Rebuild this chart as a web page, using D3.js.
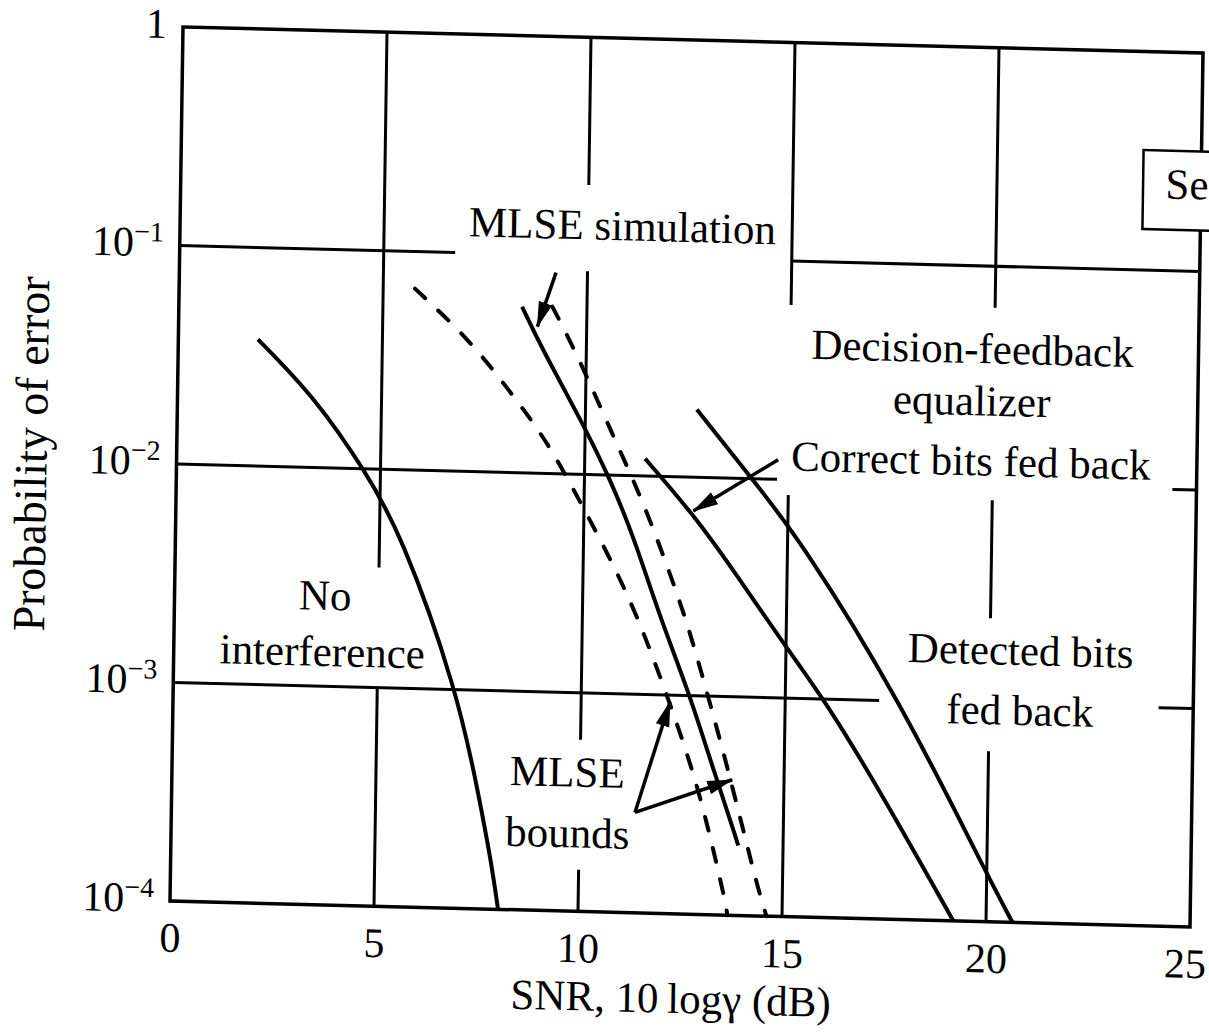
<!DOCTYPE html>
<html>
<head>
<meta charset="utf-8">
<script src="https://cdn.jsdelivr.net/npm/d3@7"></script>
<style>
  body { margin: 0; background: #fff; }
  text { font-family: "Liberation Serif", "Times New Roman", serif; fill: #000; }
</style>
</head>
<body>
<svg id="chart" width="1209" height="1036"></svg>
<script>
// SNR (dB) vs probability of error
const noInterference = [[1.95,0.038],[3.42,0.0204],[4.62,0.00977],[5.50,0.00525],[6.96,0.001],[7.56,0.000309],[7.88,0.000155],[8.04,0.0001]];
const mlseBoundLow = [[5.78,0.0676],[7.15,0.0398],[8.15,0.0234],[9.07,0.0141],[9.90,0.0075],[10.66,0.00417],[11.34,0.00229],[11.98,0.00115],[12.77,0.000457],[13.21,0.000229],[13.60,0.000117],[13.66,0.0001]];
const mlseSimulation = [[8.41,0.0575],[8.94,0.0363],[9.95,0.0170],[10.63,0.00955],[11.21,0.00537],[11.91,0.00224],[12.67,0.001],[13.26,0.000464],[13.82,0.000234],[13.90,0.000209]];
const mlseBoundHigh = [[9.15,0.0581],[9.77,0.0355],[10.69,0.0151],[11.45,0.00759],[12.05,0.00394],[12.57,0.00216],[13.03,0.00112],[13.63,0.000464],[14.33,0.000148],[14.58,0.000105],[14.62,0.0001]];
const dfeCorrectBits = [[11.48,0.0120],[12.68,0.00676],[13.68,0.0038],[14.93,0.00178],[16.03,0.000955],[17.44,0.000363],[19.20,0.0001]];
const dfeDetectedBits = [[12.73,0.0204],[14.06,0.0102],[15.30,0.00537],[17.82,0.001],[19.91,0.000178],[20.65,0.0001]];

const xTicks = [0, 5, 10, 15, 20, 25];
const yTicks = [1, 0.1, 0.01, 0.001, 0.0001];
const yTickExp = ["", "\u22121", "\u22122", "\u22123", "\u22124"];

// grid is broken around the labels: [x, p from, p to] and [p, x from, x to]
const vGrid = [[5,1,0.00355],[5,0.001,0.0001],[10,1,0.211],[10,0.0851,0.00061],[10,0.000155,0.0001],
  [15,1,0.063],[15,0.0085,0.0001],[20,1,0.0646],[20,0.0085,0.00245],[20,0.000603,0.0001]];
const hGrid = [[0.1,0,6.75],[0.1,15,25],[0.01,0,14.72],[0.01,24.41,25],[0.001,0,17.3],[0.001,24.15,25]];

const notes = [
  ["MLSE simulation", 10.84, 0.119],
  ["Decision-feedback", 19.46, 0.0359],
  ["equalizer", 19.46, 0.0207],
  ["Correct bits fed back", 19.46, 0.011],
  ["Detected bits", 20.75, 0.00151],
  ["fed back", 20.75, 0.000802],
  ["No", 3.69, 0.00224],
  ["interference", 3.64, 0.00124],
  ["MLSE", 9.69, 0.000372],
  ["bounds", 9.71, 0.000196]
];
const arrows = [
  [[9.23,0.0832],[8.79,0.0468]],
  [[14.74,0.0123],[12.68,0.007]],
  [[11.36,0.000288],[12.18,0.000933]],
  [[11.36,0.000288],[13.73,0.000417]]
];

const width = 1020, height = 874;
const svg = d3.select('#chart');

svg.append('defs').append('marker')
  .attr('id', 'head')
  .attr('markerUnits', 'userSpaceOnUse')
  .attr('viewBox', '0 -8 26 16')
  .attr('refX', 25).attr('refY', 0)
  .attr('markerWidth', 26).attr('markerHeight', 16)
  .attr('orient', 'auto')
  .append('path').attr('d', 'M0,-7L26,0L0,7Z').attr('fill', '#000');

// the scan is slightly tilted, so the whole plot sits in a skewed frame
const g = svg.append('g')
  .attr('transform', 'matrix(1,0.0255,-0.01487,1,170,901)');

const x = d3.scaleLinear().domain([0, 25]).range([0, width]);
const y = d3.scaleLog().domain([1e-4, 1]).range([0, -height]);

// grid
g.selectAll('.vgrid').data(vGrid).enter().append('line')
  .attr('x1', d => x(d[0])).attr('x2', d => x(d[0]))
  .attr('y1', d => y(d[1])).attr('y2', d => y(d[2]))
  .style('stroke', '#000').style('stroke-width', 3);
g.selectAll('.hgrid').data(hGrid).enter().append('line')
  .attr('x1', d => x(d[1])).attr('x2', d => x(d[2]))
  .attr('y1', d => y(d[0])).attr('y2', d => y(d[0]))
  .style('stroke', '#000').style('stroke-width', 3);

// frame
g.append('rect')
  .attr('x', x(0)).attr('y', y(1))
  .attr('width', x(25) - x(0)).attr('height', y(1e-4) - y(1))
  .style('fill', 'none').style('stroke', '#000').style('stroke-width', 3.5);

// curves
const line = d3.line()
  .x(d => x(d[0]))
  .y(d => y(d[1]))
  .curve(d3.curveBasis);

const curves = [
  [noInterference, false],
  [mlseBoundLow, true],
  [mlseSimulation, false],
  [mlseBoundHigh, true],
  [dfeCorrectBits, false],
  [dfeDetectedBits, false]
];
g.selectAll('.curve').data(curves).enter().append('path')
  .attr('d', d => line(d[0]))
  .style('fill', 'none')
  .style('stroke', '#000')
  .style('stroke-width', 4)
  .style('stroke-linecap', d => d[1] ? 'round' : 'butt')
  .style('stroke-dasharray', d => d[1] ? '14,18' : null);

// arrows
g.selectAll('.arrow').data(arrows).enter().append('line')
  .attr('x1', d => x(d[0][0])).attr('y1', d => y(d[0][1]))
  .attr('x2', d => x(d[1][0])).attr('y2', d => y(d[1][1]))
  .style('stroke', '#000').style('stroke-width', 3.5)
  .attr('marker-end', 'url(#head)');

// labels
g.selectAll('.note').data(notes).enter().append('text')
  .attr('x', d => x(d[1])).attr('y', d => y(d[2]))
  .attr('text-anchor', 'middle')
  .style('font-size', '43px')
  .text(d => d[0]);

// cut-off box at the right edge
g.append('rect')
  .attr('x', x(23.58)).attr('y', y(0.354))
  .attr('width', x(27) - x(23.58)).attr('height', y(0.154) - y(0.354))
  .style('fill', '#fff').style('stroke', '#000').style('stroke-width', 2.5);
g.append('text')
  .attr('x', x(24.13)).attr('y', y(0.214))
  .style('font-size', '43px')
  .text('Se');

// axes
const xAxis = g.append('g')
  .call(d3.axisBottom(x).tickValues(xTicks).tickSize(0).tickPadding(21).tickFormat(d3.format('d')));
xAxis.select('.domain').remove();
xAxis.selectAll('text')
  .attr('font-family', null)
  .style('font-size', '42px')
  .attr('dx', d => d === 25 ? -5 : 0);

const yAxis = g.append('g')
  .call(d3.axisLeft(y).tickValues(yTicks).tickSize(0).tickPadding(16));
yAxis.select('.domain').remove();
yAxis.selectAll('text')
  .attr('font-family', null)
  .style('font-size', '42px')
  .attr('dy', 11)
  .each(function(d, i) {
    const t = d3.select(this);
    if (i === 0) { t.text('1'); return; }
    t.text('10');
    t.append('tspan')
      .attr('dy', -15)
      .style('font-size', '28px')
      .text(yTickExp[i]);
  });

// axis titles
g.append('text')
  .attr('x', x(12.3)).attr('y', 99)
  .attr('text-anchor', 'middle')
  .style('font-size', '43px')
  .text('SNR, 10\u2009log\u03b3 (dB)');

g.append('text')
  .attr('transform', 'translate(-130,' + y(0.0107) + ') rotate(-90)')
  .attr('text-anchor', 'middle')
  .style('font-size', '46px')
  .text('Probability of error');
</script>
</body>
</html>
